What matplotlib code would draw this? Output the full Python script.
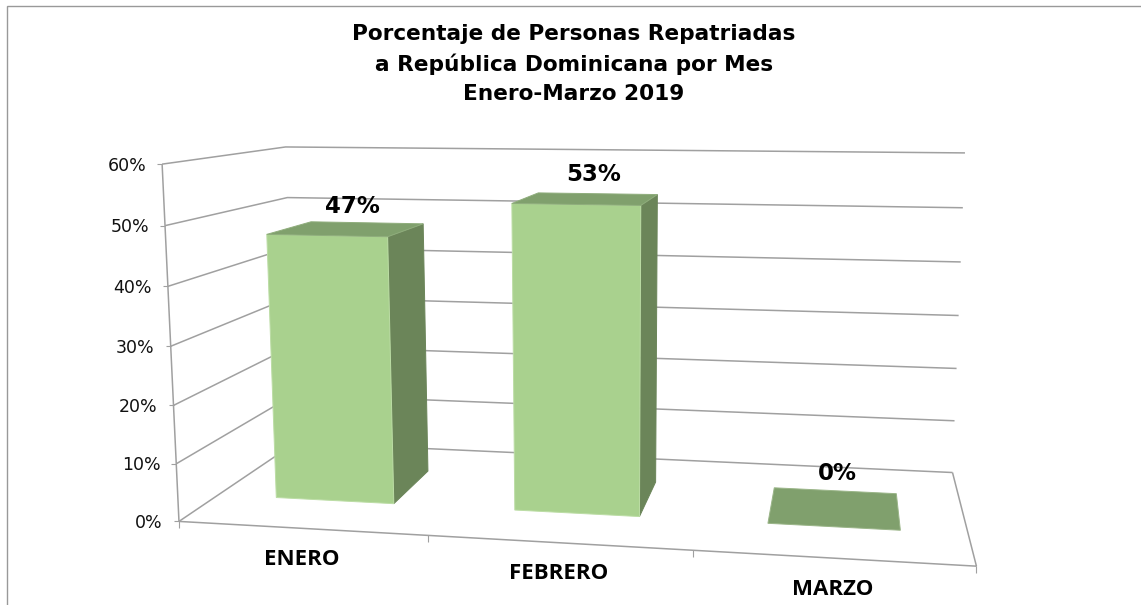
import numpy as np
import matplotlib
matplotlib.use("Agg")
import matplotlib.pyplot as plt
from matplotlib.patches import Polygon

title_lines = "Porcentaje de Personas Repatriadas\na República Dominicana por Mes\nEnero-Marzo 2019"
categories = ["ENERO", "FEBRERO", "MARZO"]
values = [47, 53, 0]
value_ticks = [0, 10, 20, 30, 40, 50, 60]

W, H = 1141, 605
BAR_HALF = 0.25
DEPTH_FRONT, DEPTH_BACK = 0.30, 0.70
GRID = "#a0a0a0"
FRONT, TOP, SIDE = "#a9d18e", "#80a06d", "#6b8559"
LABEL_OFFSET = [(5, -22), (7, -24), (3, -34)]

fig = plt.figure(figsize=(W / 100, H / 100), dpi=100, facecolor="white")
ax = fig.add_axes([0, 0, 1, 1])
ax.set_xlim(0, W)
ax.set_ylim(H, 0)
ax.axis("off")

# camera calibrated on the chart box: (category, value, depth) -> pixel
calib = [((0, 0, 0), (179, 521)), ((0, 60, 0), (162.7, 164)), ((0, 60, 1), (285, 147)),
         ((3, 60, 1), (965, 153.5)), ((3, 0, 0), (976.5, 566)), ((3, 0, 1), (952.3, 472)),
         ((0, 0, 1), (296, 443)), ((0, 30, 0), (170.5, 345.7)), ((3, 30, 1), (959, 315)),
         ((1, 0, 0), (428, 536)), ((2, 0, 0), (693, 551))]
A, b = [], []
for (u, v, d), (x, y) in calib:
    A.append([u, v, d, 1, 0, 0, 0, 0, -x * u, -x * v, -x * d]); b.append(x)
    A.append([0, 0, 0, 0, u, v, d, 1, -y * u, -y * v, -y * d]); b.append(y)
P = np.append(np.linalg.lstsq(np.array(A, float), np.array(b, float), rcond=None)[0], 1).reshape(3, 4)


def proj(u, v, d):
    p = P @ np.array([u, v, d, 1.0])
    return p[0] / p[2], p[1] / p[2]


def line(pts, lw=1.1, color=GRID):
    xs, ys = zip(*pts)
    ax.plot(xs, ys, color=color, lw=lw, solid_capstyle="butt", solid_joinstyle="miter", zorder=1)


def face(pts, color, edge=None):
    ax.add_patch(Polygon(pts, closed=True, facecolor=color,
                         edgecolor=edge or color, lw=0.7, joinstyle="miter", zorder=3))


# outer frame
line([(6.5, H), (6.5, 5.5), (W, 5.5)], lw=1.0, color="#999999")

# walls
for t in value_ticks:
    a, c, e = proj(0, t, 0), proj(0, t, 1), proj(3, t, 1)
    line([a, c, e])
    line([(a[0] - 5, a[1]), a], lw=0.8)
    ax.text(a[0] - 16, a[1] + 1.5, f"{t}%", ha="right", va="center",
            fontsize=12.5, family="DejaVu Sans", color="#111111", zorder=5)
line([proj(0, 0, 0), proj(0, 60, 0)])
line([proj(0, 0, 0), proj(3, 0, 0), proj(3, 0, 1)])
for i in range(len(categories) + 1):
    p = proj(i, 0, 0)
    line([p, (p[0], p[1] + 7)], lw=0.8)

# bars
for i, (cat, val) in enumerate(zip(categories, values)):
    l, r = i + 0.5 - BAR_HALF, i + 0.5 + BAR_HALF
    f, k = DEPTH_FRONT, DEPTH_BACK
    if val > 0:
        face([proj(r, 0, f), proj(r, 0, k), proj(r, val, k), proj(r, val, f)], SIDE)
        face([proj(l, 0, f), proj(r, 0, f), proj(r, val, f), proj(l, val, f)], FRONT, "#bcdda5")
    face([proj(l, val, f), proj(r, val, f), proj(r, val, k), proj(l, val, k)], TOP,
         "#8fad7c" if val > 0 else "#9ab588")
    # data label
    cx, cy = proj(i + 0.5, val, 0.5)
    dx, dy = LABEL_OFFSET[i]
    ax.text(cx + dx, cy + dy, f"{val}%", ha="center", va="center", fontsize=16.5,
            fontweight="bold", family="DejaVu Sans", color="black", zorder=5)
    # category label
    bx, by = proj(i + 0.5, 0, 0)
    ax.text(bx, by + 31, cat, ha="center", va="center", fontsize=16,
            fontweight="bold", family="Open Sans", color="black", zorder=5)

ax.text(574, 64, title_lines, ha="center", va="center", fontsize=15.6, fontweight="bold",
        family="DejaVu Sans", color="black", linespacing=1.53, zorder=5)

fig.savefig("out.png", dpi=100)
